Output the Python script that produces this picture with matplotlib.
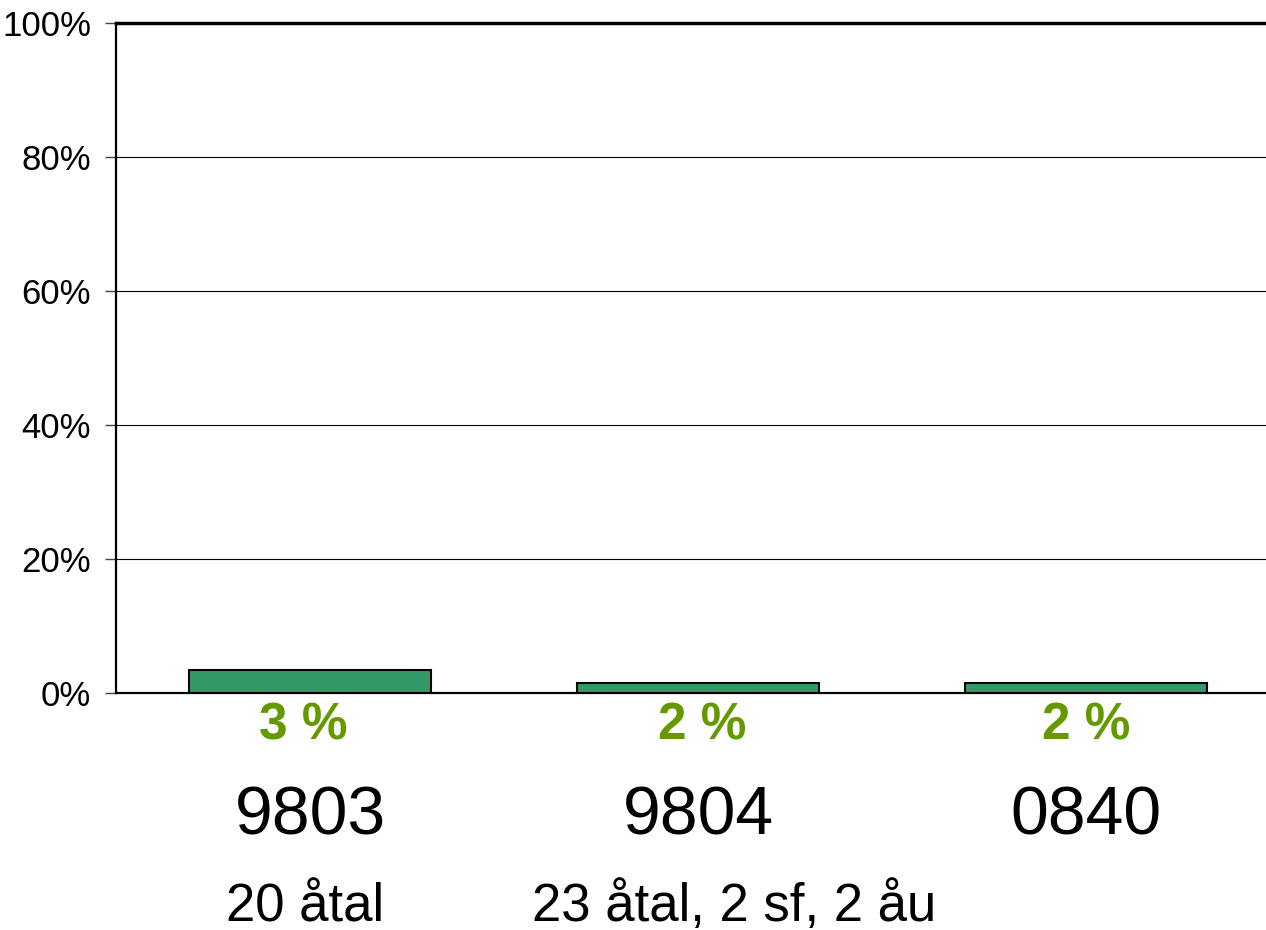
import matplotlib

matplotlib.use("Agg")
import matplotlib.pyplot as plt
from matplotlib.transforms import blended_transform_factory

plt.rcParams["font.family"] = ["Liberation Sans", "DejaVu Sans"]

categories = ["9803", "9804", "0840"]
subtitles = ["20 åtal", "23 åtal, 2 sf, 2 åu", ""]
values = [3.4, 1.5, 1.5]
value_labels = ["3 %", "2 %", "2 %"]
y_ticks = [0, 20, 40, 60, 80, 100]

W, H = 1266, 930
fig = plt.figure(figsize=(W / 100, H / 100), dpi=100)
ax = fig.add_axes([116 / W, (H - 693) / H, (W - 116) / W, (693 - 23) / H])

x = list(range(len(categories)))
ax.bar(x, values, width=0.626, color="#339966", edgecolor="black", linewidth=1.5, zorder=3)

ax.set_xlim(-0.5, 2.5 - 14 / 388)
ax.set_ylim(0, 100)
ax.set_yticks(y_ticks)
ax.set_yticklabels([f"{t}%" for t in y_ticks], fontsize=25)
ax.tick_params(axis="y", length=8, width=1, color="#444444", pad=10)
ax.tick_params(axis="x", length=0, labelbottom=False)
ax.grid(axis="y", color="black", linewidth=0.8, zorder=0)

for side in ("left", "bottom"):
    ax.spines[side].set_linewidth(1.6)
ax.spines["top"].set_linewidth(2.5)
ax.spines["right"].set_visible(False)

# labels are not quite centred under the bars in the original
label_shift = [-0.018, 0.01, 0]
sub_shift = [-0.012, 0.093, 0]

trans = blended_transform_factory(ax.transData, fig.transFigure)
for i, xi in enumerate(x):
    ax.text(xi + label_shift[i], 1 - 726 / H, value_labels[i], transform=trans,
            ha="center", va="center", fontsize=37, fontweight="bold", color="#669900")
    ax.text(xi, 1 - 816 / H, categories[i], transform=trans, ha="center", va="center",
            fontsize=49)
    if subtitles[i]:
        ax.text(xi + sub_shift[i], 1 - 921 / H, subtitles[i], transform=trans,
                ha="center", va="baseline", fontsize=38)

fig.savefig("out.png", dpi=100)
plt.close(fig)
